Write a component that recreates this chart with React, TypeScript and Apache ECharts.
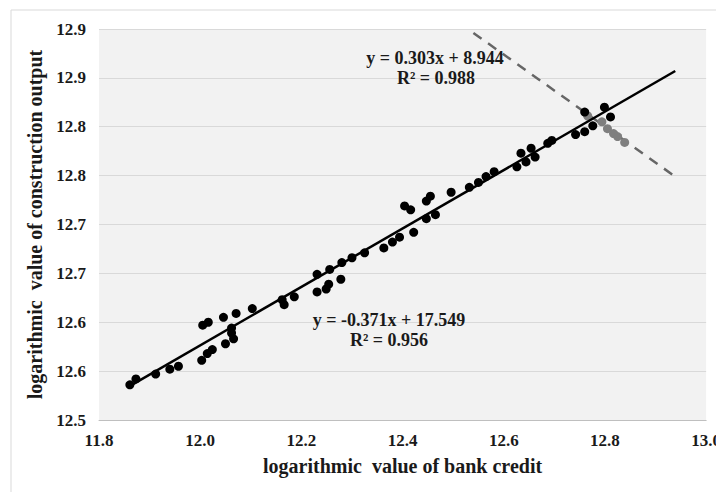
import React, { useEffect, useRef } from "react";
import * as echarts from "echarts";

// bank credit (x) vs construction output (y), both logarithmic
const blackX = [11.861, 11.873, 11.912, 11.94, 11.957, 12.003, 12.014, 12.024, 12.005, 12.016, 12.046, 12.071, 12.103, 12.05, 12.066, 12.062, 12.062,
  12.166, 12.162, 12.186, 12.231, 12.249, 12.254, 12.278, 12.231, 12.256, 12.28, 12.3, 12.325, 12.363, 12.38, 12.394, 12.422, 12.404, 12.416,
  12.447, 12.455, 12.447, 12.465, 12.496, 12.532, 12.55, 12.565, 12.581, 12.626, 12.634, 12.644, 12.654, 12.662, 12.687, 12.695,
  12.742, 12.76, 12.776, 12.76, 12.799, 12.811];
const blackY = [12.536, 12.542, 12.547, 12.552, 12.555, 12.561, 12.568, 12.572, 12.597, 12.6, 12.605, 12.609, 12.614, 12.578, 12.583, 12.589, 12.594,
  12.618, 12.623, 12.626, 12.631, 12.634, 12.639, 12.644, 12.649, 12.654, 12.661, 12.666, 12.671, 12.676, 12.682, 12.687, 12.692, 12.719, 12.715,
  12.724, 12.729, 12.706, 12.71, 12.733, 12.738, 12.743, 12.749, 12.754, 12.759, 12.773, 12.764, 12.778, 12.769, 12.783, 12.786,
  12.792, 12.795, 12.801, 12.815, 12.82, 12.81];
const grayX = [12.766, 12.794, 12.805, 12.817, 12.825, 12.839];
const grayY = [12.811, 12.805, 12.798, 12.793, 12.79, 12.784];

// trend lines (end points)
const trendSolidX = [11.865, 12.939];
const trendSolidY = [12.536, 12.857];
const trendDashedX = [12.54, 12.939];
const trendDashedY = [12.896, 12.749];

const yTickLabels = ["12.5", "12.6", "12.6", "12.7", "12.7", "12.8", "12.8", "12.9", "12.9"];
const xTickLabels = ["11.8", "12.0", "12.2", "12.4", "12.6", "12.8", "13.0"];

const eq1 = ["y = 0.303x + 8.944", "R² = 0.988"];
const eq2 = ["y = -0.371x + 17.549", "R² = 0.956"];

const zip = (xs: number[], ys: number[]) => xs.map((x, i) => [x, ys[i]]);

const FONT = "'Liberation Serif', 'Times New Roman', serif";

export default function App() {
  const ref = useRef<HTMLDivElement>(null);
  useEffect(() => {
    if (!ref.current) return;
    const chart = echarts.init(ref.current, null, { renderer: "svg" });
    const eqStyle = { fontFamily: FONT, fontWeight: "bold", fontSize: 18, fill: "#1a1a1a", textAlign: "center", textVerticalAlign: "middle" };
    chart.setOption({
      animation: false,
      backgroundColor: "#ffffff",
      grid: {
        left: 99, top: 29, right: 15, bottom: 80,
        show: true, backgroundColor: "#f2f2f2", borderWidth: 0,
      },
      xAxis: {
        type: "value", min: 11.8, max: 13.0, interval: 0.2,
        axisLine: { show: true, lineStyle: { color: "#bfbfbf", width: 1 } },
        axisTick: { show: false },
        splitLine: { show: false },
        axisLabel: {
          margin: 12, color: "#1a1a1a", fontFamily: FONT, fontWeight: "bold", fontSize: 17,
          formatter: (v: number) => xTickLabels[Math.round((v - 11.8) / 0.2)] ?? "",
        },
        name: "logarithmic  value of bank credit",
        nameLocation: "middle", nameGap: 36,
        nameTextStyle: { color: "#1a1a1a", fontFamily: FONT, fontWeight: "bold", fontSize: 20 },
      },
      yAxis: {
        type: "value", min: 12.5, max: 12.9, interval: 0.05,
        axisLine: { show: false },
        axisTick: { show: false },
        splitLine: { show: true, lineStyle: { color: "#d9d9d9", width: 1 } },
        axisLabel: {
          margin: 13, color: "#1a1a1a", fontFamily: FONT, fontWeight: "bold", fontSize: 17,
          formatter: (v: number) => yTickLabels[Math.round((v - 12.5) / 0.05)] ?? "",
        },
        name: "logarithmic  value of construction output",
        nameLocation: "middle", nameGap: 54, nameRotate: 90,
        nameTextStyle: { color: "#1a1a1a", fontFamily: FONT, fontWeight: "bold", fontSize: 20 },
      },
      graphic: [
        { type: "rect", shape: { x: 11, y: 10, width: 730, height: 510 }, style: { fill: "none", stroke: "#d9d9d9", lineWidth: 1 }, z: -1 },
        { type: "text", x: 435, y: 58, style: { ...eqStyle, text: eq1[0] }, z: 10 },
        { type: "text", x: 436, y: 78, style: { ...eqStyle, text: eq1[1] }, z: 10 },
        { type: "text", x: 389, y: 320, style: { ...eqStyle, text: eq2[0] }, z: 10 },
        { type: "text", x: 389, y: 340, style: { ...eqStyle, text: eq2[1] }, z: 10 },
      ],
      series: [
        {
          type: "line", data: zip(trendDashedX, trendDashedY), symbol: "none", z: 3,
          lineStyle: { color: "#666666", width: 2.5, type: [10, 8] },
        },
        {
          type: "scatter", data: zip(grayX, grayY), symbol: "circle", symbolSize: 9, z: 4,
          itemStyle: { color: "#7f7f7f", opacity: 1 },
        },
        {
          type: "scatter", data: zip(blackX, blackY), symbol: "circle", symbolSize: 9, z: 4,
          itemStyle: { color: "#000000", opacity: 1 },
        },
        {
          type: "line", data: zip(trendSolidX, trendSolidY), symbol: "none", z: 5,
          lineStyle: { color: "#000000", width: 2.5 },
        },
      ],
    });
    return () => chart.dispose();
  }, []);
  return <div ref={ref} style={{ width: 724, height: 500, margin: -8 }} />;
}
